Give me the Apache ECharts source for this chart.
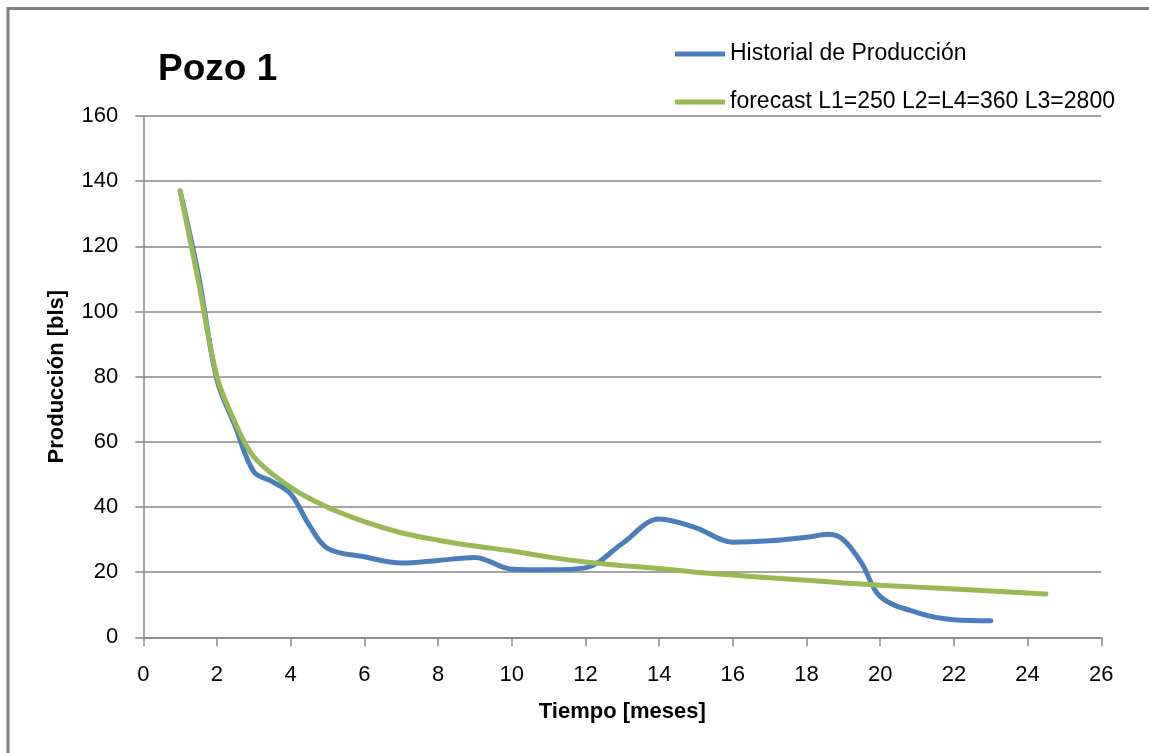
<!DOCTYPE html>
<html>
<head>
<meta charset="utf-8">
<script src="https://cdn.jsdelivr.net/npm/echarts@6/dist/echarts.min.js"></script>
<style>
html,body{margin:0;padding:0;background:#fff;}
#chart{width:1149px;height:753px;}
</style>
</head>
<body>
<div id="chart"></div>
<script>
const titleText = "Pozo 1";
const seriesNames = ["Historial de Producción", "forecast L1=250 L2=L4=360 L3=2800"];
const xAxisName = "Tiempo [meses]";
const yAxisName = "Producción [bls]";

const histMonths = [1,1.5,2,2.5,3,3.5,4,4.5,5,6,7,8,9,10,11,12,13,14,15,16,17,18,18.6,19,19.5,20,21,22,23];
const histValues = [137,111,79,64.6,50.8,47.8,44.0,34.5,27.3,24.7,22.8,23.6,24.5,20.9,20.7,21.3,28.8,36.3,33.6,29.2,29.6,30.7,31.6,29.9,22.7,12.5,7.6,5.4,5.1];

const fcMonths = [1,1.5,2,2.5,3,4,5,6,7,8,9,10,11,12,13,14,15,16,17,18,19,20,21,22,23,24,24.5];
const fcValues = [137,109,80,65.7,55.4,46,39.9,35.5,32.1,29.8,28,26.5,24.6,23.1,22,21.1,20,19.1,18.3,17.5,16.7,16,15.4,14.8,14.2,13.6,13.3];

const xMin = 0, xMax = 26, xStep = 2;
const yMin = 0, yMax = 160, yStep = 20;

const FONT = "'Liberation Sans', Arial, sans-serif";
const histData = histMonths.map((m, i) => [m, histValues[i]]);
const fcData = fcMonths.map((m, i) => [m, fcValues[i]]);

const chart = echarts.init(document.getElementById('chart'), null, {renderer: 'canvas'});
chart.setOption({
  backgroundColor: '#ffffff',
  animation: false,
  textStyle: {fontFamily: FONT},
  title: {
    text: titleText,
    left: 153, top: 46,
    textStyle: {fontFamily: FONT, fontSize: 37, fontWeight: 'bold', color: '#000'}
  },
  legend: {
    orient: 'vertical',
    left: 670, top: 37,
    itemWidth: 50, itemHeight: 5,
    itemGap: 24,
    icon: 'rect',
    textStyle: {fontFamily: FONT, fontSize: 23, color: '#000', lineHeight: 24},
    data: seriesNames
  },
  graphic: [{
    type: 'rect',
    shape: {x: 8, y: 8.5, width: 1300, height: 900},
    style: {fill: 'none', stroke: '#808080', lineWidth: 3},
    silent: true
  }],
  grid: {left: 143.3, right: 47.7, top: 116, bottom: 115.7, containLabel: false},
  xAxis: {
    type: 'value', min: xMin, max: xMax, interval: xStep,
    name: xAxisName, nameLocation: 'middle', nameGap: 64,
    nameTextStyle: {fontFamily: FONT, fontSize: 22, fontWeight: 'bold', color: '#000'},
    axisLine: {show: true, onZero: false, lineStyle: {color: '#868686', width: 1.5}},
    axisTick: {show: true, inside: false, length: 9, lineStyle: {color: '#868686', width: 1.5}},
    axisLabel: {margin: 27, fontFamily: FONT, fontSize: 22, color: '#000'},
    splitLine: {show: false}
  },
  yAxis: {
    type: 'value', min: yMin, max: yMax, interval: yStep,
    name: yAxisName, nameLocation: 'middle', nameGap: 75, nameRotate: 90,
    nameTextStyle: {fontFamily: FONT, fontSize: 22, fontWeight: 'bold', color: '#000'},
    axisLine: {show: true, lineStyle: {color: '#868686', width: 1.5}},
    axisTick: {show: true, inside: false, length: 8, lineStyle: {color: '#868686', width: 1.5}},
    axisLabel: {margin: 25, fontFamily: FONT, fontSize: 22, color: '#000'},
    splitLine: {show: true, lineStyle: {color: '#868686', width: 1.5}}
  },
  series: [
    {
      name: seriesNames[0], type: 'line', data: histData,
      smooth: 0.35, symbol: 'none', z: 3,
      lineStyle: {color: '#4A7EBB', width: 5, cap: 'round'},
      itemStyle: {color: '#4A7EBB'}
    },
    {
      name: seriesNames[1], type: 'line', data: fcData,
      smooth: 0.35, symbol: 'none', z: 4,
      lineStyle: {color: '#98B954', width: 5, cap: 'round'},
      itemStyle: {color: '#98B954'}
    }
  ]
});
</script>
</body>
</html>
